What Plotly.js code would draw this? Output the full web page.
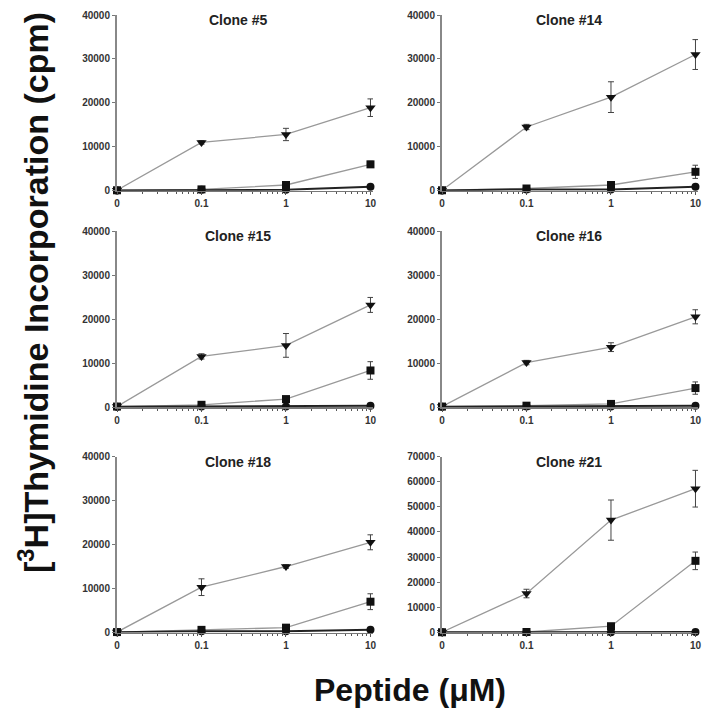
<!DOCTYPE html>
<html>
<head>
<meta charset="utf-8">
<script src="https://cdn.plot.ly/plotly-3.0.1.min.js"></script>
<style>html,body{margin:0;padding:0;background:#fff;}#chart{width:716px;height:709px;}</style>
</head>
<body>
<div id="chart"></div>
<script>
// ---- Data ----
const doses = [0, 0.1, 1, 10];
const doseLabels = ['0', '0.1', '1', '10'];
const clones = ['Clone #5', 'Clone #14', 'Clone #15', 'Clone #16', 'Clone #18', 'Clone #21'];

const c5_tri = [100, 11000, 12800, 18900];
const c5_tri_err = [100, 400, 1400, 2000];
const c5_sq = [100, 300, 1300, 6000];
const c5_sq_err = [0, 200, 400, 700];
const c5_ci = [50, 200, 200, 900];
const c5_ci_err = [0, 0, 0, 200];

const c14_tri = [100, 14500, 21300, 31000];
const c14_tri_err = [100, 600, 3500, 3400];
const c14_sq = [100, 500, 1300, 4300];
const c14_sq_err = [0, 200, 300, 1500];
const c14_ci = [50, 300, 300, 900];
const c14_ci_err = [0, 0, 0, 200];

const c15_tri = [100, 11500, 14000, 23200];
const c15_tri_err = [100, 600, 2700, 1700];
const c15_sq = [100, 500, 1800, 8300];
const c15_sq_err = [0, 200, 300, 2000];
const c15_ci = [50, 100, 100, 300];
const c15_ci_err = [0, 0, 0, 100];

const c16_tri = [100, 10100, 13600, 20500];
const c16_tri_err = [100, 500, 1000, 1600];
const c16_sq = [100, 300, 700, 4300];
const c16_sq_err = [0, 100, 200, 1400];
const c16_ci = [50, 100, 100, 300];
const c16_ci_err = [0, 0, 0, 100];

const c18_tri = [100, 10300, 15000, 20500];
const c18_tri_err = [100, 1900, 400, 1700];
const c18_sq = [100, 600, 1100, 7000];
const c18_sq_err = [0, 200, 300, 1800];
const c18_ci = [50, 300, 300, 600];
const c18_ci_err = [0, 0, 0, 100];

const c21_tri = [100, 15500, 44700, 57200];
const c21_tri_err = [100, 1700, 8000, 7300];
const c21_sq = [100, 200, 2500, 28500];
const c21_sq_err = [0, 100, 500, 3500];
const c21_ci = [50, 100, 100, 200];
const c21_ci_err = [0, 0, 0, 100];

const yMax = [40000, 40000, 40000, 40000, 40000, 70000];
const yTicks40 = [0, 10000, 20000, 30000, 40000];
const yTicks70 = [0, 10000, 20000, 30000, 40000, 50000, 60000, 70000];

const panelData = [
  [c5_tri, c5_tri_err, c5_sq, c5_sq_err, c5_ci, c5_ci_err],
  [c14_tri, c14_tri_err, c14_sq, c14_sq_err, c14_ci, c14_ci_err],
  [c15_tri, c15_tri_err, c15_sq, c15_sq_err, c15_ci, c15_ci_err],
  [c16_tri, c16_tri_err, c16_sq, c16_sq_err, c16_ci, c16_ci_err],
  [c18_tri, c18_tri_err, c18_sq, c18_sq_err, c18_ci, c18_ci_err],
  [c21_tri, c21_tri_err, c21_sq, c21_sq_err, c21_ci, c21_ci_err]
];

// ---- Layout geometry (pixels) ----
const W = 716, H = 709;
const ZERO_POS = 0.01; // where dose 0 sits on the log axis
const xPos = doses.map(d => d === 0 ? ZERO_POS : d);
const cols = [[117, 373], [442, 698]];
const rows = [[15, 190.7], [231, 407], [456.5, 632.5]];

const minorVals = [];
[0.01, 0.1, 1].forEach(dec => { for (let k = 2; k <= 9; k++) minorVals.push(+(k * dec).toFixed(4)); });

const traces = [];
const layout = {
  width: W, height: H,
  margin: {l: 0, r: 0, t: 0, b: 0},
  paper_bgcolor: '#fff', plot_bgcolor: '#fff',
  showlegend: false,
  font: {family: 'Arial, Liberation Sans, sans-serif', color: '#333'},
  annotations: []
};

const tickFont = {family: 'Arial, Liberation Sans, sans-serif', size: 10, color: '#333', weight: 'bold'};

panelData.forEach((pd, i) => {
  const r = Math.floor(i / 2), c = i % 2;
  const n = i + 1;
  const xa = 'x' + (n === 1 ? '' : n), ya = 'y' + (n === 1 ? '' : n);
  const xk = 'xaxis' + (n === 1 ? '' : n), yk = 'yaxis' + (n === 1 ? '' : n);
  const xd = [cols[c][0] / W, cols[c][1] / W];
  const yd = [1 - rows[r][1] / H, 1 - rows[r][0] / H];
  layout[xk] = {
    type: 'log', domain: xd, range: [-2, 1.03], anchor: ya,
    tickmode: 'array', tickvals: xPos, ticktext: doseLabels,
    showline: true, linecolor: '#777', linewidth: 1.5,
    ticks: 'outside', ticklen: 3, tickcolor: '#555', tickwidth: 1,
    minor: {tickmode: 'array', tickvals: minorVals, ticks: 'outside', ticklen: 2, tickcolor: '#555', tickwidth: 1, showgrid: false},
    showgrid: false, zeroline: false, tickfont: tickFont, fixedrange: true
  };
  layout[yk] = {
    domain: yd, range: [0, yMax[i]], anchor: xa,
    tickmode: 'array', tickvals: yMax[i] > 40000 ? yTicks70 : yTicks40,
    ticktext: (yMax[i] > 40000 ? yTicks70 : yTicks40).map(v => String(v)),
    showline: true, linecolor: '#888', linewidth: 2,
    ticks: 'outside', ticklen: 3, tickcolor: '#777', tickwidth: 1,
    showgrid: false, zeroline: false, tickfont: tickFont, fixedrange: true
  };
  const [tri, triE, sq, sqE, ci, ciE] = pd;
  const errStyle = arr => ({type: 'data', array: arr, visible: true, color: '#444', thickness: 1, width: 3});
  traces.push({x: xPos, y: tri, xaxis: xa, yaxis: ya, mode: 'lines+markers', cliponaxis: false,
    line: {color: '#999', width: 1.3}, marker: {symbol: 'triangle-down', size: 9, color: '#111'}, error_y: errStyle(triE)});
  traces.push({x: xPos, y: sq, xaxis: xa, yaxis: ya, mode: 'lines+markers', cliponaxis: false,
    line: {color: '#999', width: 1.3}, marker: {symbol: 'square', size: 8, color: '#111'}, error_y: errStyle(sqE)});
  traces.push({x: xPos, y: ci, xaxis: xa, yaxis: ya, mode: 'lines+markers', cliponaxis: false,
    line: {color: '#222', width: 2}, marker: {symbol: 'circle', size: 8, color: '#111'}, error_y: errStyle(ciE)});
  layout.annotations.push({
    text: '<b>' + clones[i] + '</b>', xref: 'paper', yref: 'paper',
    x: (c === 0 ? 238 : 569) / W, y: 1 - (rows[r][0] + 5) / H,
    xanchor: 'center', yanchor: 'middle', showarrow: false,
    font: {family: 'Arial, Liberation Sans, sans-serif', size: 14, color: '#222'}
  });
});

layout.annotations.push({
  text: '<b>[<sup>3</sup>H]Thymidine Incorporation (cpm)</b>', xref: 'paper', yref: 'paper',
  x: 33 / W, y: 1 - 293 / H, textangle: -90, xanchor: 'center', yanchor: 'middle', showarrow: false,
  font: {family: 'Arial, Liberation Sans, sans-serif', size: 34, color: '#111'}
});
layout.annotations.push({
  text: '<b>Peptide (\u03bcM)</b>', xref: 'paper', yref: 'paper',
  x: 410 / W, y: 1 - 690 / H, xanchor: 'center', yanchor: 'middle', showarrow: false,
  font: {family: 'Arial, Liberation Sans, sans-serif', size: 32, color: '#111'}
});

Plotly.newPlot('chart', traces, layout, {displayModeBar: false, staticPlot: true});
</script>
</body>
</html>
